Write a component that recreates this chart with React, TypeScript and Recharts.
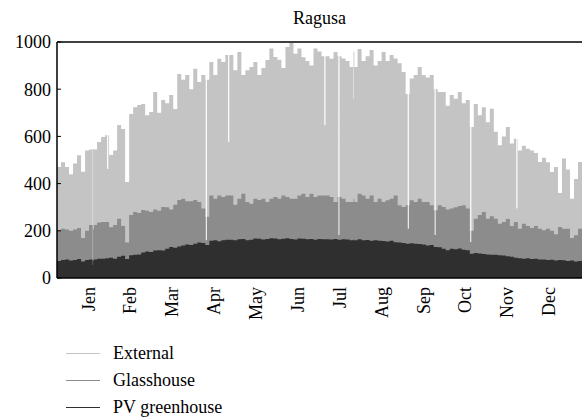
import { ComposedChart, Area, XAxis, YAxis, ReferenceLine, Legend } from 'recharts';

// each sample is one short period (~3 days) of the year, peak irradiance in W/m2
const months = ['Jen', 'Feb', 'Mar', 'Apr', 'May', 'Jun', 'Jul', 'Aug', 'Sep', 'Oct', 'Nov', 'Dec'];
const monthTicks = [7.8, 18.2, 28.7, 39.1, 49.6, 60.0, 70.5, 80.9, 91.4, 101.8, 112.3, 122.7];
const yTicks = [0, 200, 400, 600, 800, 1000];

const external = [
  470, 490, 470, 440, 485, 520, 450, 540, 545, 547, 576, 597, 605, 521, 540, 648,
  631, 407, 695, 724, 733, 737, 690, 703, 788, 700, 754, 740, 775, 716, 864, 840,
  860, 800, 887, 830, 860, 840, 915, 860, 929, 915, 945, 860, 880, 958, 860, 880,
  894, 915, 860, 890, 924, 972, 936, 925, 890, 979, 996, 950, 972, 935, 920, 900,
  972, 960, 940, 900, 929, 958, 940, 930, 920, 894, 960, 970, 920, 940, 966, 900,
  920, 958, 920, 945, 930, 910, 873, 780, 845, 860, 894, 860, 850, 860, 800, 788,
  788, 730, 775, 760, 788, 740, 754, 640, 737, 690, 724, 660, 717, 620, 563, 600,
  640, 570, 590, 540, 560, 548, 540, 530, 492, 510, 490, 449, 470, 360, 506, 460,
  336, 420, 492, 470,
];

const glasshouse = [
  200, 209, 205, 200, 205, 212, 170, 200, 225, 205, 235, 237, 237, 215, 225, 251,
  220, 150, 267, 280, 275, 288, 285, 280, 290, 285, 301, 300, 290, 310, 330, 336,
  325, 325, 330, 322, 294, 260, 350, 336, 350, 343, 350, 336, 310, 336, 357, 322,
  315, 336, 330, 336, 322, 336, 343, 336, 350, 343, 336, 336, 350, 357, 343, 357,
  343, 350, 350, 336, 343, 322, 343, 336, 322, 322, 336, 357, 350, 336, 350, 322,
  336, 322, 329, 336, 350, 308, 301, 308, 329, 322, 336, 322, 322, 308, 287, 308,
  301, 290, 294, 300, 305, 308, 294, 200, 251, 267, 280, 251, 262, 251, 230, 237,
  250, 220, 237, 209, 230, 220, 212, 220, 209, 202, 209, 200, 185, 216, 209, 209,
  170, 181, 209, 200,
];

const pvGreenhouse = [
  72, 76, 78, 74, 76, 80, 70, 76, 78, 74, 82,
  82, 84, 86, 82, 90, 94, 80, 96, 98, 100,
  108, 112, 110, 116, 118, 117, 124, 131, 128, 134, 138, 142,
  140, 145, 150, 148, 140, 158, 160, 156,
  160, 162, 158, 160, 164, 165, 160, 162, 167, 166, 163, 165, 168, 167, 164, 166, 168, 165, 163, 167, 166, 164, 165, 162,
  165, 164, 166, 163, 165, 162, 164, 163, 160, 162, 164, 160, 161, 158, 160, 158, 157, 155, 158, 152, 150, 148, 145, 147, 145, 144,
  142, 138, 140, 131, 130, 124, 118,
  124, 122, 125, 120, 118,
  103, 106, 104, 102, 100, 98, 99, 96,
  95, 92, 90, 86, 84, 82, 84, 80, 82, 78,
  78, 76, 77, 74, 76, 75, 72, 74, 70, 72, 69,
];

// short cloudy spells (white hairlines): position in periods and the low peak reached
const dipPeriods = [8.9, 12.5, 37.1, 42.7, 66.7, 70.2, 73.9, 87.5, 94.2, 103.1, 114.6];
const dipExternal = [60, 462, 160, 576, 648, 182, 760, 209, 182, 153, 294];
const dipGlasshouse = [60, null, 160, null, null, 182, null, 209, 182, 153, null];
const dipPv = [55, null, null, null, null, null, null, null, null, null, null];

const rows: any[] = external.map((v, i) => ({
  k: i,
  external: v,
  glasshouse: glasshouse[i],
  pv: pvGreenhouse[i],
}));
dipPeriods.forEach((p, j) => {
  const base = rows[Math.floor(p)];
  const gh = dipGlasshouse[j] ?? base.glasshouse;
  const pv = dipPv[j] ?? base.pv;
  rows.push({
    k: p,
    external: dipExternal[j],
    glasshouse: Math.min(gh, base.glasshouse),
    pv: Math.min(pv, base.pv),
  });
  rows.push({ ...base, k: p + 0.3 });
});
const data = rows.sort((a, b) => a.k - b.k);

const FONT = '"Liberation Serif", serif';

const legendItems = [
  { label: 'External', color: '#c4c4c4' },
  { label: 'Glasshouse', color: '#8c8c8c' },
  { label: 'PV greenhouse', color: '#2f2f2f' },
];

const MonthTick = ({ x, y, payload }: any) => {
  const idx = monthTicks.indexOf(payload.value);
  return (
    <text
      x={x}
      y={y}
      transform={`rotate(-90, ${x}, ${y})`}
      textAnchor="end"
      dy="0.35em"
      fontSize={18}
      fontFamily={FONT}
      fill="#000"
    >
      {months[idx]}
    </text>
  );
};

const ValueTick = ({ x, y, payload }: any) => (
  <g>
    <line x1={x + 6} x2={x + 10} y1={y} y2={y} stroke="#000" />
    <text x={x} y={y} textAnchor="end" dy="0.35em" fontSize={18} fontFamily={FONT} fill="#000">
      {payload.value}
    </text>
  </g>
);

const LegendContent = () => (
  <div style={{ paddingLeft: 66, paddingTop: 4, fontFamily: FONT, fontSize: 18 }}>
    {legendItems.map((it) => (
      <div key={it.label} style={{ display: 'flex', alignItems: 'center', height: 27 }}>
        <svg width={34} height={3} style={{ marginRight: 13, display: 'block' }}>
          <line x1={0} x2={34} y1={1.5} y2={1.5} stroke={it.color} strokeWidth={1} />
        </svg>
        <span>{it.label}</span>
      </div>
    ))}
  </div>
);

export default function App() {
  return (
    <div style={{ position: 'absolute', left: 0, top: 0, width: 582, height: 418, background: '#fff' }}>
      <div
        style={{
          position: 'absolute',
          top: 8,
          left: 57,
          width: 525,
          textAlign: 'center',
          fontFamily: FONT,
          fontSize: 18,
        }}
      >
        Ragusa
      </div>
      <ComposedChart width={582} height={418} data={data} margin={{ top: 42, right: 0, bottom: 0, left: 0 }}>
        <XAxis
          dataKey="k"
          type="number"
          domain={[0, 131]}
          ticks={monthTicks}
          tick={<MonthTick />}
          tickLine={false}
          tickSize={4}
          tickMargin={5}
          height={58}
          axisLine={{ stroke: '#000', strokeWidth: 1.5 }}
          allowDataOverflow
        />
        <YAxis
          type="number"
          domain={[0, 1000]}
          ticks={yTicks}
          tick={<ValueTick />}
          tickLine={false}
          tickSize={0}
          tickMargin={6}
          width={57}
          axisLine={{ stroke: '#000', strokeWidth: 1.5 }}
        />
        <Legend verticalAlign="bottom" align="left" height={82} content={<LegendContent />} />
        <Area
          type="stepAfter"
          dataKey="external"
          fill="#c4c4c4"
          fillOpacity={1}
          stroke="none"
          isAnimationActive={false}
        />
        <Area
          type="stepAfter"
          dataKey="glasshouse"
          fill="#8c8c8c"
          fillOpacity={1}
          stroke="none"
          isAnimationActive={false}
        />
        <Area
          type="stepAfter"
          dataKey="pv"
          fill="#2f2f2f"
          fillOpacity={1}
          stroke="none"
          isAnimationActive={false}
        />
        <ReferenceLine y={1000} stroke="#000" strokeWidth={1.5} />
      </ComposedChart>
    </div>
  );
}
